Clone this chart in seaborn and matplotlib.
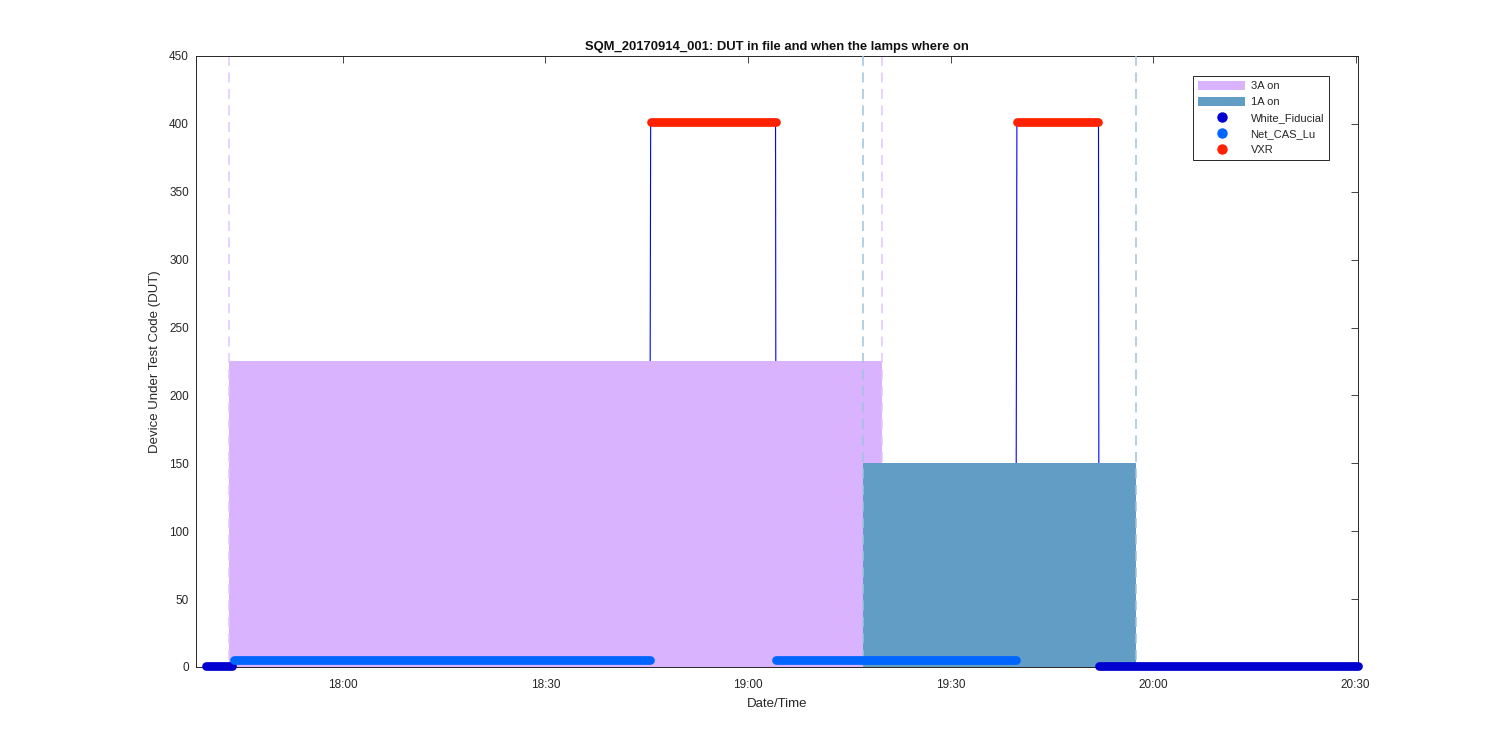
import matplotlib
matplotlib.use('Agg')
import numpy as np
import pandas as pd
import matplotlib.pyplot as plt
import matplotlib.dates as mdates
import seaborn as sns
from matplotlib.patches import Patch
from matplotlib.lines import Line2D

# Data
day = '2017-09-14 '

# DUT runs: which test code, start, end, DUT value
seg_names = ['White_Fiducial', 'Net_CAS_Lu', 'VXR', 'Net_CAS_Lu', 'VXR', 'White_Fiducial']
seg_start = ['17:39:40', '17:43:55', '18:45:35', '19:04:10', '19:39:50', '19:52:00']
seg_end = ['17:43:35', '18:45:25', '19:04:05', '19:39:40', '19:51:55', '20:30:20']
seg_dut = [1, 5, 401, 5, 401, 1]

# lamps on
lamp_names = ['3A on', '1A on']
lamp_start = ['17:43:05', '19:17:00']
lamp_end = ['19:19:50', '19:57:30']
lamp_level = [225, 150]

dut_names = ['White_Fiducial', 'Net_CAS_Lu', 'VXR']
dut_colors = ['#0000d0', '#0066ff', '#ff2200']
lamp_colors = ['#dab3fe', '#629dc6']
dash_colors = ['#e2c6fe', '#9fc3dd']

x_min = '17:38:12'
x_max = '20:30:25'

#Step 1: build frames
rows = []
for i in range(len(seg_names)):
    rows.append((i, seg_names[i], pd.Timestamp(day + seg_start[i]), seg_dut[i]))
    rows.append((i, seg_names[i], pd.Timestamp(day + seg_end[i]), seg_dut[i]))
seg_df = pd.DataFrame(rows, columns=['seg', 'name', 'time', 'dut'])

#Step 2: plot
sns.set_style('white')
plt.rcParams['font.family'] = ['Liberation Sans', 'DejaVu Sans']

fig = plt.figure(figsize=(15, 7.5), dpi=100)
ax = fig.add_axes([0.1305, 0.1107, 0.7751, 0.8147])

# thin DUT line under everything
sns.lineplot(data=seg_df, x='time', y='dut', color='#0000ff', lw=0.8,
             estimator=None, sort=False, ax=ax, zorder=1)

for i in range(len(lamp_names)):
    t0 = pd.Timestamp(day + lamp_start[i])
    t1 = pd.Timestamp(day + lamp_end[i])
    ax.fill_between([t0, t1], [lamp_level[i]] * 2, 0, color=lamp_colors[i],
                    lw=0, zorder=2 + i)
    for t in (t0, t1):
        # draw top-down so the dash pattern starts at the top edge
        ax.plot([t, t], [1, 0], transform=ax.get_xaxis_transform(),
                color=dash_colors[i], lw=1.1, ls=(0, (6.5, 4.3)), zorder=2.5 + i)

sns.lineplot(data=seg_df, x='time', y='dut', hue='name', units='seg',
             estimator=None, palette=dict(zip(dut_names, dut_colors)),
             lw=6.3, solid_capstyle='round', legend=False, ax=ax, zorder=5,
             clip_on=False)

ax.set_xlim(pd.Timestamp(day + x_min), pd.Timestamp(day + x_max))
ax.set_ylim(0, 450)
ax.set_yticks(np.arange(0, 451, 50))
ax.xaxis.set_major_locator(mdates.MinuteLocator(byminute=[0, 30]))
ax.xaxis.set_major_formatter(mdates.DateFormatter('%H:%M'))

ax.tick_params(direction='in', top=True, right=True, length=5, width=0.6,
               colors='#262626', labelsize=8.5)
ax.tick_params(axis='x', pad=9)
ax.tick_params(axis='y', pad=5)
for s in ax.spines.values():
    s.set_color('#262626')
    s.set_linewidth(0.7)

ax.set_xlabel('Date/Time', fontsize=9.5, color='#262626', labelpad=5)
ax.set_ylabel('Device Under Test Code (DUT)', fontsize=9.5, color='#262626', labelpad=6)
ax.set_title('SQM_20170914_001: DUT in file and when the lamps where on',
             fontsize=9.4, fontweight='bold', color='#111111', pad=4)

handles = [Patch(facecolor=lamp_colors[i], edgecolor='none', label=lamp_names[i])
           for i in range(len(lamp_names))]
handles += [Line2D([], [], ls='none', marker='o', ms=6.5, color=dut_colors[i],
                   label=dut_names[i]) for i in range(len(dut_names))]
leg = ax.legend(handles=handles, loc='upper right', bbox_to_anchor=(0.9748, 0.9678),
                borderaxespad=0, fontsize=8, frameon=True, fancybox=False,
                handlelength=4.2, handleheight=0.9, handletextpad=0.5,
                labelspacing=0.5, borderpad=0.45)
leg.get_frame().set_edgecolor('#262626')
leg.get_frame().set_linewidth(0.7)
leg.get_frame().set_alpha(1)

fig.savefig('out.png', dpi=100)
